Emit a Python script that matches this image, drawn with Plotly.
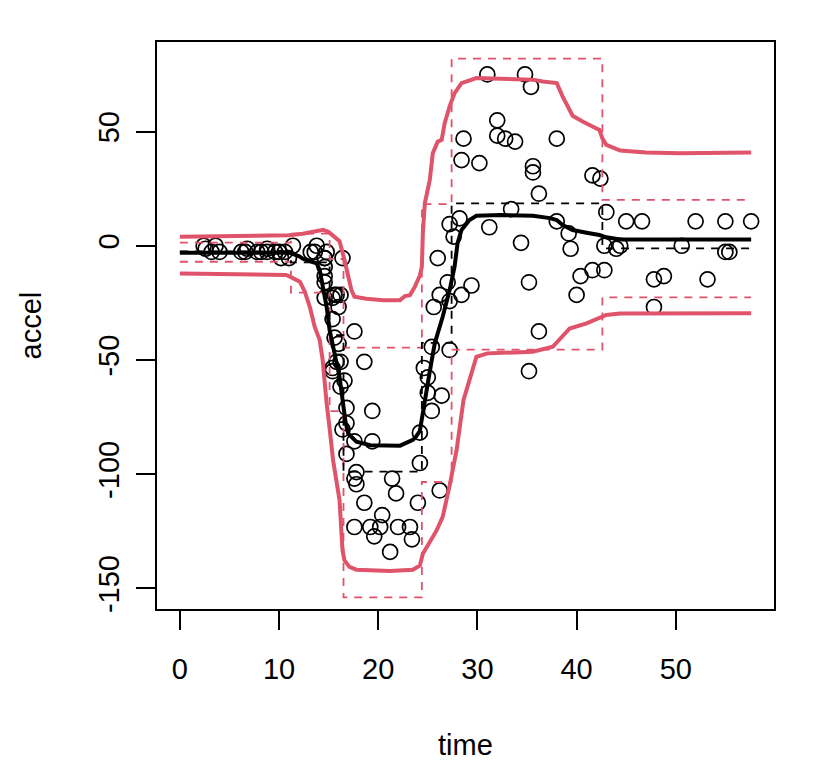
import plotly.graph_objects as go

# mcycle data
times = [2.4, 2.6, 3.2, 3.6, 4.0, 6.2, 6.6, 6.8, 7.8, 8.2, 8.8, 8.8, 9.6, 10.0, 10.2, 10.6, 11.0, 11.4,
         13.2, 13.6, 13.8, 14.6, 14.6, 14.6, 14.6, 14.6, 14.6, 14.8, 15.4, 15.4, 15.4, 15.4, 15.6, 15.6,
         15.8, 15.8, 16.0, 16.0, 16.2, 16.2, 16.2, 16.4, 16.4, 16.6, 16.8, 16.8, 16.8, 17.6, 17.6, 17.6,
         17.6, 17.8, 17.8, 18.6, 18.6, 19.2, 19.4, 19.4, 19.6, 20.2, 20.4, 21.2, 21.4, 21.8, 22.0, 23.2,
         23.4, 24.0, 24.2, 24.2, 24.6, 25.0, 25.0, 25.4, 25.4, 25.6, 26.0, 26.2, 26.2, 26.4, 27.0, 27.2,
         27.2, 27.2, 27.6, 28.2, 28.4, 28.4, 28.6, 29.4, 30.2, 31.0, 31.2, 32.0, 32.0, 32.8, 33.4, 33.8,
         34.4, 34.8, 35.2, 35.2, 35.4, 35.6, 35.6, 36.2, 36.2, 38.0, 38.0, 39.2, 39.4, 40.0, 40.4, 41.6,
         41.6, 42.4, 42.8, 42.8, 43.0, 44.0, 44.4, 45.0, 46.6, 47.8, 47.8, 48.8, 50.6, 52.0, 53.2, 55.0,
         55.0, 55.4, 57.6]
accel = [0.0, -1.3, -2.7, 0.0, -2.7, -2.7, -2.7, -1.3, -2.7, -2.7, -1.3, -2.7, -2.7, -2.7, -5.4, -2.7,
         -5.4, 0.0, -2.7, -2.7, 0.0, -13.3, -5.4, -5.4, -9.3, -16.0, -22.8, -2.7, -22.8, -32.1, -53.5,
         -54.9, -40.2, -21.5, -21.5, -50.8, -42.9, -26.8, -21.5, -50.8, -61.7, -5.4, -80.4, -59.0, -71.0,
         -91.1, -77.7, -37.5, -85.6, -123.1, -101.9, -99.1, -104.4, -112.5, -50.8, -123.1, -85.6, -72.3,
         -127.2, -123.1, -117.9, -134.0, -101.9, -108.4, -123.1, -123.1, -128.5, -112.5, -95.1, -81.8,
         -53.5, -64.4, -57.6, -72.3, -44.3, -26.8, -5.4, -107.1, -21.5, -65.6, -16.0, -45.6, -24.2, 9.5,
         4.0, 12.0, -21.5, 37.5, 46.9, -17.4, 36.2, 75.0, 8.1, 54.9, 48.2, 46.9, 16.0, 45.6, 1.3, 75.0,
         -16.0, -54.9, 69.6, 34.8, 32.1, -37.5, 22.8, 46.9, 10.7, 5.4, -1.3, -21.5, -13.3, 30.8, -10.7,
         29.4, 0.0, -10.7, 14.7, -1.3, 0.0, 10.7, 10.7, -26.8, -14.7, -13.3, 0.0, 10.7, -14.7, -2.7, 10.7,
         -2.7, 10.7]

# piecewise-constant (tree) fit with intervals
leaf_breaks = [0, 11.2, 15.1, 16.5, 24.4, 27.4, 42.6, 57.6]
leaf_mean = [-2.45, -7.3, -39.1, -98.9, -42.5, 18.6, -1.1]
leaf_lower = [-7.0, -20.5, -72.4, -153.9, -103.4, -45.5, -22.6]
leaf_upper = [1.4, 5.3, -5.8, -44.6, 18.2, 81.9, 20.1]

# smooth fit
fit_t = [0, 11.0, 12.0, 12.4, 13.4, 13.8, 14.1, 14.4, 14.8, 15.1, 15.6, 16.1, 16.5, 16.7, 16.97, 17.8,
         19.2, 21.2, 22.2, 23.5, 23.8, 24.2, 24.5, 24.7, 25.2, 25.7, 26.5, 27.2, 27.7, 28.0, 28.4, 29.2,
         29.9, 32.3, 35.6, 37.3, 38.0, 38.6, 39.6, 41.0, 42.3, 43.0, 44.4, 57.6]
fit_a = [-3.0, -3.0, -4.5, -5.6, -7.1, -7.7, -10.6, -17.9, -26.7, -36.9, -47.1, -57.4, -70.5, -77.0,
         -82.2, -85.8, -87.3, -87.7, -87.5, -85.0, -83.6, -81.0, -73.0, -66.0, -55.0, -42.7, -31.1,
         -19.4, -9.2, 1.1, 6.9, 11.3, 13.1, 13.5, 13.1, 12.1, 11.3, 9.1, 6.9, 5.7, 4.7, 3.7, 2.8, 2.8]

up_t = [0, 11.0, 12.4, 14.1, 14.45, 15.0, 16.1, 16.6, 17.0, 17.3, 17.6, 18.8, 20.5, 21.8, 22.2, 22.7,
        23.2, 23.7, 24.0, 24.2, 24.4, 24.5, 24.7, 25.2, 25.5, 26.0, 26.4, 26.7, 27.2, 27.7, 28.4, 28.9,
        29.9, 32.3, 35.6, 36.6, 38.0, 38.6, 39.3, 39.6, 40.6, 42.3, 42.6, 43.0, 44.4, 47.0, 50.4, 57.6]
up_a = [4.0, 4.6, 5.3, 7.0, 7.0, 6.0, 2.0, -6.2, -13.5, -19.4, -22.3, -23.2, -23.8, -24.0, -23.8, -22.0,
        -21.6, -17.9, -15.0, -13.0, -9.2, 5.6, 18.6, 28.8, 40.5, 45.6, 46.4, 53.7, 61.0, 66.8, 71.2, 71.9,
        73.4, 73.1, 72.7, 71.9, 71.2, 65.3, 58.8, 56.9, 54.4, 50.7, 47.0, 44.2, 41.7, 40.8, 40.5, 40.8]

lo_t = [0, 10.7, 11.1, 12.1, 12.6, 13.1, 13.6, 14.1, 14.4, 14.6, 14.8, 15.1, 15.45, 16.1, 16.4, 16.6,
        17.1, 17.8, 21.2, 23.5, 24.2, 24.5, 25.5, 25.9, 26.5, 26.9, 27.2, 27.9, 28.6, 29.2, 29.9, 31.0,
        35.6, 37.6, 38.6, 39.3, 41.0, 42.3, 43.0, 44.4, 57.6]
lo_a = [-12.1, -12.8, -13.5, -15.7, -20.1, -26.7, -35.5, -41.3, -50.0, -62.0, -69.0, -80.0, -93.9,
        -111.4, -133.3, -137.7, -140.6, -141.8, -142.4, -141.8, -139.9, -134.8, -127.5, -124.5, -118.7,
        -111.4, -105.0, -89.5, -67.5, -58.8, -48.6, -47.1, -46.4, -44.2, -39.8, -36.2, -34.0, -31.8,
        -30.3, -29.6, -29.5]

x_ticks = [0, 10, 20, 30, 40, 50]
y_ticks = [-150, -100, -50, 0, 50]
y_tick_labels = ["-150", "-100", "-50", "0", "50"]

RED = "#DF536B"
FONT = "Liberation Sans, Arial, Helvetica, sans-serif"
FS = 29

fig = go.Figure()

fig.add_trace(go.Scatter(x=times, y=accel, mode="markers",
                         marker=dict(symbol="circle-open", size=15, color="black",
                                     line=dict(width=1.7, color="black"))))

def step(vals):
    return vals + [vals[-1]]

for vals, col in [(leaf_upper, RED), (leaf_lower, RED), (leaf_mean, "black")]:
    fig.add_trace(go.Scatter(x=leaf_breaks, y=step(vals), mode="lines", line_shape="hv",
                             line=dict(color=col, width=1.8, dash="8px,7px")))

fig.add_trace(go.Scatter(x=up_t, y=up_a, mode="lines", line=dict(color=RED, width=4)))
fig.add_trace(go.Scatter(x=lo_t, y=lo_a, mode="lines", line=dict(color=RED, width=4)))
fig.add_trace(go.Scatter(x=fit_t, y=fit_a, mode="lines", line=dict(color="black", width=4)))

axis_common = dict(showgrid=False, zeroline=False, showline=True, mirror=True, linecolor="black",
                   linewidth=1.5, ticks="outside", ticklen=19, tickwidth=1.5, tickcolor="black",
                   automargin=False, tickfont=dict(family=FONT, size=FS, color="black"))

fig.update_xaxes(range=[-2.304, 59.904], tickvals=x_ticks, ticklabelstandoff=14, **axis_common)
fig.update_yaxes(range=[-159.0, 89.2], tickvals=y_ticks, ticktext=y_tick_labels, tickangle=-90,
                 ticklabelstandoff=6, **axis_common)

fig.add_annotation(text="time", xref="paper", yref="paper", x=0.5, y=0, xanchor="center",
                   yanchor="middle", yshift=-136, showarrow=False,
                   font=dict(family=FONT, size=FS, color="black"))
fig.add_annotation(text="accel", xref="paper", yref="paper", x=0, y=0.5, xanchor="center",
                   yanchor="middle", xshift=-127, textangle=-90, showarrow=False,
                   font=dict(family=FONT, size=FS, color="black"))

# page body has an 8px default margin, so the figure is drawn 8px smaller and shifted
fig.update_layout(width=808, height=760, margin=dict(l=149, r=42, t=34, b=159, autoexpand=False),
                  plot_bgcolor="white", paper_bgcolor="white", showlegend=False)

fig.write_html("out.html")
